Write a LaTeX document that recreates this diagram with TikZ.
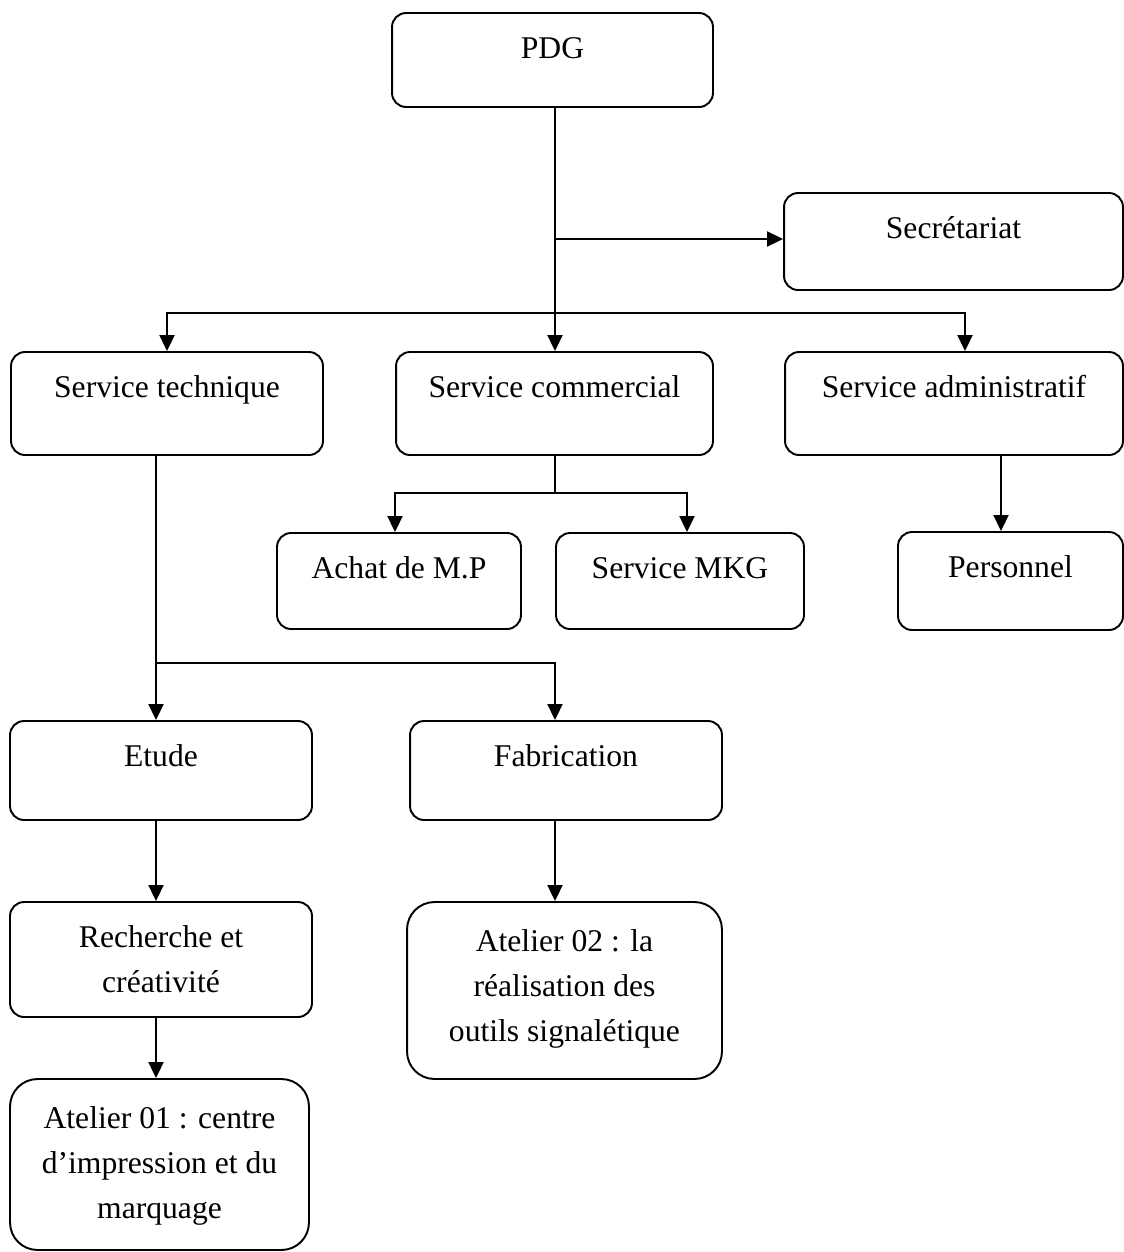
\documentclass[tikz,border=0pt]{standalone}
\usepackage{fontspec}
\setmainfont{Liberation Serif}
\usetikzlibrary{arrows.meta}

\newcommand{\boxtxt}[4][8.25pt]{\parbox[c][#3][t]{#2}{\centering\vspace*{#1}\strut#4}}

\begin{document}
\begin{tikzpicture}[x=0.02cm,y=-0.02cm,
    unit/.style={draw,line width=1.1pt,rounded corners=0.28cm,inner sep=0pt,
      font=\fontsize{18}{25.5}\selectfont},
    link/.style={line width=1.1pt},
    >={Triangle[length=0.32cm,width=0.3cm]}]
    \useasboundingbox (0,0) rectangle (1124,1252);

    % boxes
    \node[unit] (pdg) at (552.5,60) {\boxtxt{6.42cm}{1.88cm}{PDG}};
    \node[unit] (sec) at (953.5,241.5) {\boxtxt{6.78cm}{1.94cm}{Secrétariat}};
    \node[unit] (tech) at (167,403.5) {\boxtxt{6.24cm}{2.06cm}{Service technique}};
    \node[unit] (com) at (554.5,403.5) {\boxtxt{6.34cm}{2.06cm}{Service commercial}};
    \node[unit] (adm) at (954,403.5) {\boxtxt{6.76cm}{2.06cm}{Service administratif}};
    \node[unit] (achat) at (399,581) {\boxtxt{4.88cm}{1.92cm}{Achat de M.P}};
    \node[unit] (mkg) at (680,581) {\boxtxt{4.96cm}{1.92cm}{Service MKG}};
    \node[unit] (pers) at (1010.5,581) {\boxtxt{4.5cm}{1.96cm}{Personnel}};
    \node[unit] (etude) at (161,770.5) {\boxtxt{6.04cm}{1.98cm}{Etude}};
    \node[unit] (fab) at (566,770.5) {\boxtxt{6.24cm}{1.98cm}{Fabrication}};
    \node[unit] (rech) at (161,959.5) {\boxtxt{6.04cm}{2.3cm}{Recherche et\\créativité}};
    \node[unit,rounded corners=0.55cm] (at2) at (564.5,990.5)
      {\boxtxt[10.5pt]{6.3cm}{3.54cm}{Atelier 02 : la\\réalisation des\\outils signalétique}};
    \node[unit,rounded corners=0.55cm] (at1) at (159.5,1164.5)
      {\boxtxt[10.5pt]{5.98cm}{3.42cm}{Atelier 01 : centre\\d’impression et du\\marquage}};

    % branch points
    \coordinate (j1) at (555,239);
    \coordinate (j2) at (555,313);
    \coordinate (j3) at (555,493);
    \coordinate (j4) at (156,663);

    % links
    \draw[link,->] (pdg.south -| j1) -- (j2 |- com.north);
    \draw[link,->] (j1) -- (j1 -| sec.west);
    \draw[link,->] (j2) -| (tech.north);
    \draw[link,->] (j2) -| ([xshift=0.22cm]adm.north);

    \draw[link] (com.south -| j3) -- (j3);
    \draw[link,->] (j3) -| ([xshift=-0.08cm]achat.north);
    \draw[link,->] (j3) -| ([xshift=0.14cm]mkg.north);
    \draw[link,->] ([xshift=-0.19cm]pers.north |- adm.south) -- ([xshift=-0.19cm]pers.north);

    \draw[link] (tech.south -| j4) -- (j4);
    \draw[link,->] (j4) -- (j4 |- etude.north);
    \draw[link,->] (j4) -| ([xshift=-0.22cm]fab.north);
    \draw[link,->] (etude.south -| j4) -- (rech.north -| j4);
    \draw[link,->] (rech.south -| j4) -- (at1.north -| j4);
    \draw[link,->] (fab.south -| j2) -- (at2.north -| j2);
\end{tikzpicture}
\end{document}
